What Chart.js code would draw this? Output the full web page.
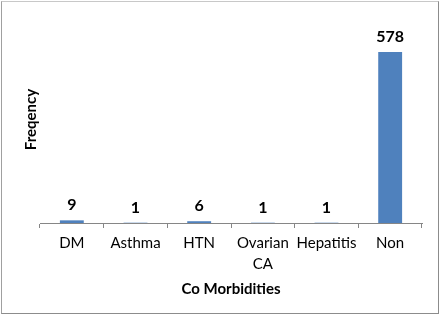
<!DOCTYPE html>
<html>
<head>
<meta charset="utf-8">
<script src="https://cdn.jsdelivr.net/npm/chart.js@4/dist/chart.umd.min.js"></script>
<style>
    html, body { margin: 0; padding: 0; background: #fff; }
    .frame {
        position: relative;
        width: 436px;
        height: 311px;
        margin: 1px 0 0 1px;
        border-right: 1px solid #8c8c8c;
        border-bottom: 1px solid #8c8c8c;
        border-top: 1px solid #c8c8c8;
        border-left: 1px solid #a0a0a0;
        box-sizing: content-box;
    }
    canvas { position: absolute; left: 0; top: 0; }
</style>
</head>
<body>
<div class="frame">
    <canvas id="chart" width="436" height="311"></canvas>
</div>
<script>
const categories = ['DM', 'Asthma', 'HTN', ['Ovarian', 'CA'], 'Hepatitis', 'Non'];
const frequency = [9, 1, 6, 1, 1, 578];
const yMax = 700;

const FONT = 'Lato, "Open Sans", sans-serif';

// draws the value above each bar, like Excel data labels
const valueLabels = {
    id: 'valueLabels',
    afterDatasetsDraw(chart) {
        const ctx = chart.ctx;
        const meta = chart.getDatasetMeta(0);
        ctx.save();
        ctx.font = 'bold 16px ' + FONT;
        ctx.fillStyle = '#000';
        ctx.textAlign = 'center';
        ctx.textBaseline = 'middle';
        meta.data.forEach((bar, i) => {
            ctx.fillText(String(frequency[i]), bar.x, bar.y - 15);
        });
        ctx.restore();
    }
};

const ctx = document.getElementById('chart').getContext('2d');

new Chart(ctx, {
    type: 'bar',
    data: {
        labels: categories,
        datasets: [
            {
                data: frequency,
                backgroundColor: '#4F81BD',
                borderWidth: 0,
                barPercentage: 0.375,
                categoryPercentage: 1
            }
        ]
    },
    options: {
        responsive: false,
        animation: false,
        layout: { padding: { top: 14, right: 16, bottom: 15, left: 2 } },
        plugins: {
            legend: { display: false },
            tooltip: { enabled: false }
        },
        scales: {
            x: {
                offset: true,
                grid: {
                    display: true,
                    drawOnChartArea: false,
                    drawTicks: true,
                    tickLength: 5,
                    color: '#868686'
                },
                border: { display: true, color: '#868686', width: 1 },
                ticks: {
                    color: '#000',
                    maxRotation: 0,
                    autoSkip: false,
                    padding: 5,
                    font: { family: FONT, size: 15, lineHeight: 1.4 }
                },
                title: {
                    display: true,
                    text: 'Co Morbidities',
                    color: '#000',
                    font: { family: FONT, size: 15, weight: 'bold' },
                    padding: { top: 0, bottom: 0 }
                }
            },
            y: {
                min: 0,
                max: yMax,
                grid: { display: false, drawTicks: false },
                border: { display: false },
                ticks: { display: false, padding: 0 },
                title: {
                    display: true,
                    text: 'Freqency',
                    color: '#000',
                    font: { family: FONT, size: 15, weight: 'bold' },
                    padding: { top: 18, bottom: 0 }
                }
            }
        }
    },
    plugins: [valueLabels]
});
</script>
</body>
</html>
